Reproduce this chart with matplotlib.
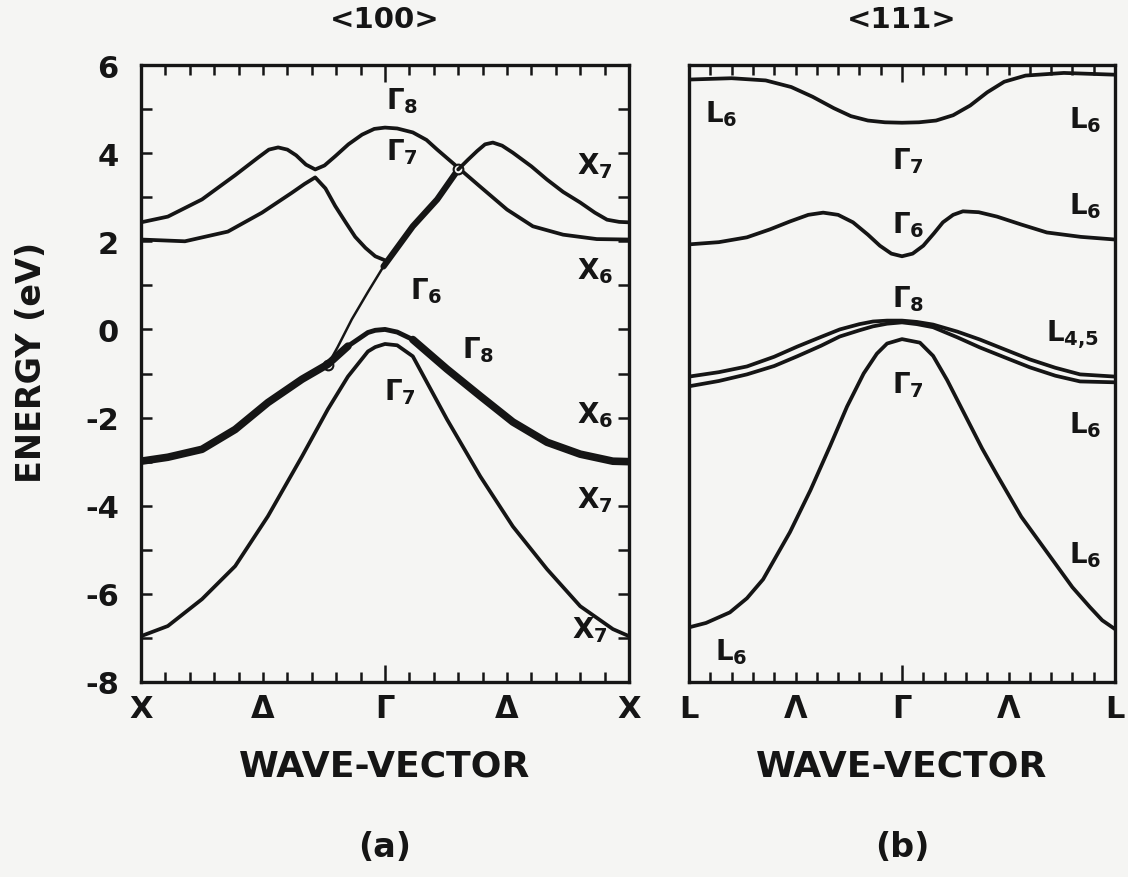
import matplotlib.pyplot as plt
import numpy as np

plt.rcParams['font.family'] = ['DejaVu Sans']
plt.rcParams['font.weight'] = 'bold'
plt.rcParams['mathtext.fontset'] = 'dejavusans'
plt.rcParams['mathtext.default'] = 'bf'
plt.rcParams['axes.unicode_minus'] = False

INK = '#151515'
BG = '#f5f5f3'

# ---------------- (a) <100> : 0 = X, 0.5 = Gamma, 1 = X ----------------
a_top_k = [0, 0.055, 0.125, 0.193, 0.24, 0.262, 0.281, 0.30, 0.318, 0.338, 0.357, 0.376,
           0.398, 0.425, 0.453, 0.478, 0.5, 0.525, 0.557, 0.585, 0.607, 0.65, 0.695,
           0.75, 0.803, 0.865, 0.934, 1.0]
a_top_e = [2.43, 2.56, 2.95, 3.5, 3.9, 4.08, 4.13, 4.08, 3.95, 3.74, 3.63, 3.72,
           3.93, 4.2, 4.42, 4.55, 4.58, 4.56, 4.47, 4.3, 4.08, 3.67, 3.24,
           2.72, 2.34, 2.15, 2.05, 2.04]

a_mid_k = [0, 0.09, 0.178, 0.248, 0.309, 0.335, 0.357, 0.378, 0.398, 0.42, 0.439, 0.46, 0.48, 0.504]
a_mid_e = [2.04, 2.0, 2.22, 2.65, 3.1, 3.3, 3.45, 3.2, 2.8, 2.42, 2.1, 1.85, 1.66, 1.55]

a_g6_k = [0.383, 0.403, 0.432, 0.465, 0.497, 0.557, 0.607, 0.65]
a_g6_e = [-0.8, -0.4, 0.23, 0.85, 1.43, 2.34, 2.95, 3.63]

a_x7_k = [0.65, 0.67, 0.689, 0.705, 0.721, 0.74, 0.762, 0.80, 0.832, 0.865, 0.9, 0.93, 0.955, 0.98, 1.0]
a_x7_e = [3.63, 3.85, 4.05, 4.2, 4.24, 4.17, 4.01, 3.7, 3.4, 3.12, 2.88, 2.65, 2.49, 2.44, 2.43]

a_hh_k = [0, 0.055, 0.125, 0.193, 0.26, 0.33, 0.383, 0.424, 0.465, 0.48, 0.5, 0.525,
          0.557, 0.627, 0.695, 0.762, 0.832, 0.9, 0.967, 1.0]
a_hh_e = [-2.99, -2.9, -2.72, -2.27, -1.66, -1.13, -0.79, -0.38, -0.07, -0.02, 0.0, -0.06,
          -0.23, -0.9, -1.51, -2.1, -2.56, -2.83, -2.99, -3.0]

a_so_k = [0, 0.055, 0.125, 0.193, 0.26, 0.33, 0.383, 0.424, 0.465, 0.48, 0.5, 0.525,
          0.557, 0.627, 0.695, 0.762, 0.832, 0.9, 0.967, 1.0]
a_so_e = [-6.96, -6.73, -6.12, -5.37, -4.24, -2.88, -1.81, -1.07, -0.5, -0.4, -0.33, -0.36,
          -0.61, -2.04, -3.33, -4.47, -5.44, -6.28, -6.8, -6.96]

# ---------------- (b) <111> : 0 = L, 0.5 = Gamma, 1 = L ----------------
b_top_k = [0, 0.1, 0.18, 0.24, 0.29, 0.34, 0.38, 0.42, 0.46, 0.5, 0.54, 0.58, 0.62,
           0.66, 0.70, 0.74, 0.79, 0.88, 1.0]
b_top_e = [5.67, 5.7, 5.65, 5.5, 5.28, 5.02, 4.84, 4.74, 4.7, 4.69, 4.7, 4.74, 4.86,
           5.08, 5.38, 5.62, 5.76, 5.82, 5.78]

b_g6_k = [0, 0.07, 0.136, 0.19, 0.237, 0.28, 0.315, 0.35, 0.385, 0.42, 0.448, 0.475, 0.5,
          0.525, 0.55, 0.575, 0.596, 0.62, 0.643, 0.68, 0.723, 0.78, 0.84, 0.92, 1.0]
b_g6_e = [1.93, 1.98, 2.09, 2.27, 2.45, 2.6, 2.65, 2.6, 2.43, 2.15, 1.9, 1.72, 1.66,
          1.72, 1.9, 2.18, 2.43, 2.6, 2.68, 2.66, 2.56, 2.38, 2.2, 2.1, 2.04]

b_l_k = [0, 0.07, 0.136, 0.2, 0.254, 0.31, 0.354, 0.4, 0.432, 0.465, 0.5, 0.535, 0.573,
         0.63, 0.683, 0.74, 0.8, 0.86, 0.918, 1.0]
b_l45_e = [-1.07, -0.97, -0.84, -0.62, -0.39, -0.17, 0.0, 0.12, 0.18, 0.2, 0.2, 0.17, 0.11,
           -0.05, -0.23, -0.45, -0.68, -0.87, -1.02, -1.07]
b_l6_e = [-1.29, -1.17, -1.02, -0.83, -0.61, -0.37, -0.16, -0.02, 0.07, 0.13, 0.16, 0.12, 0.05,
          -0.18, -0.41, -0.63, -0.86, -1.05, -1.18, -1.2]

b_g7_k = [0, 0.04, 0.096, 0.136, 0.174, 0.237, 0.285, 0.331, 0.371, 0.41, 0.441, 0.465, 0.5,
          0.542, 0.573, 0.606, 0.643, 0.688, 0.723, 0.78, 0.84, 0.9, 0.941, 0.97, 1.0]
b_g7_e = [-6.76, -6.66, -6.42, -6.1, -5.67, -4.6, -3.65, -2.65, -1.75, -1.0, -0.55, -0.32, -0.22,
          -0.3, -0.6, -1.15, -1.85, -2.7, -3.3, -4.25, -5.05, -5.85, -6.3, -6.6, -6.8]

xtick_a = ['X', '\u0394', '\u0393', '\u0394', 'X']
xtick_b = ['L', '\u039b', '\u0393', '\u039b', 'L']

# band labels: (k, E, text)
labels_a = [(0.535, 5.2, r'$\Gamma_8$'), (0.535, 4.05, r'$\Gamma_7$'), (0.585, 0.9, r'$\Gamma_6$'),
            (0.69, -0.45, r'$\Gamma_8$'), (0.53, -1.4, r'$\Gamma_7$'),
            (0.93, 3.72, r'$X_7$'), (0.93, 1.35, r'$X_6$'), (0.93, -1.93, r'$X_6$'),
            (0.93, -3.85, r'$X_7$'), (0.92, -6.8, r'$X_7$')]
labels_b = [(0.075, 4.9, r'$L_6$'), (0.93, 4.78, r'$L_6$'), (0.515, 3.85, r'$\Gamma_7$'),
            (0.93, 2.83, r'$L_6$'), (0.515, 2.38, r'$\Gamma_6$'), (0.515, 0.7, r'$\Gamma_8$'),
            (0.9, -0.1, r'$L_{4{,}5}$'), (0.515, -1.25, r'$\Gamma_7$'), (0.93, -2.15, r'$L_6$'),
            (0.93, -5.1, r'$L_6$'), (0.1, -7.3, r'$L_6$')]

fig = plt.figure(figsize=(11.28, 8.78), dpi=100, facecolor=BG)
ax1 = fig.add_axes([141 / 1128, 1 - 683 / 878, 488 / 1128, 617 / 878], facecolor=BG)
ax2 = fig.add_axes([689 / 1128, 1 - 683 / 878, 426 / 1128, 617 / 878], facecolor=BG)

lw = 2.7
kw = dict(color=INK, solid_capstyle='round', solid_joinstyle='round')

ax1.plot(a_top_k, a_top_e, lw=lw, **kw)
ax1.plot(a_mid_k, a_mid_e, lw=lw, **kw)
ax1.plot(a_g6_k[:5], a_g6_e[:5], lw=1.8, **kw)
ax1.plot(a_g6_k[4:], a_g6_e[4:], lw=4.5, **kw)
ax1.plot(a_g6_k, a_g6_e, lw=0, marker='o', ms=7, mfc=BG, mec=INK, mew=1.5, markevery=[0, 7])
ax1.plot(a_x7_k, a_x7_e, lw=lw, **kw)
ax1.plot(a_hh_k[:8], a_hh_e[:8], lw=5.5, **kw)
ax1.plot(a_hh_k[7:13], a_hh_e[7:13], lw=3.5, **kw)
ax1.plot(a_hh_k[12:], a_hh_e[12:], lw=5.5, **kw)
ax1.plot(a_so_k, a_so_e, lw=lw, **kw)

ax2.plot(b_top_k, b_top_e, lw=lw, **kw)
ax2.plot(b_g6_k, b_g6_e, lw=lw, **kw)
ax2.plot(b_l_k, b_l45_e, lw=lw, **kw)
ax2.plot(b_l_k, b_l6_e, lw=lw, **kw)
ax2.plot(b_g7_k, b_g7_e, lw=lw, **kw)

for ax, names, labs, title, panel in [(ax1, xtick_a, labels_a, '<100>', '(a)'),
                                      (ax2, xtick_b, labels_b, '<111>', '(b)')]:
    ax.set_xlim(0, 1)
    ax.set_ylim(-8, 6)
    ax.set_xticks(np.linspace(0, 1, 21))
    ax.set_xticklabels([names[i // 5] if i % 5 == 0 else '' for i in range(21)])
    ax.tick_params(axis='x', direction='in', top=True, bottom=True, length=7, width=1.8,
                   pad=9, labelsize=22, colors=INK)
    t = ax.xaxis.get_major_ticks()[10]
    t.tick1line.set_markersize(12)
    t.tick2line.set_markersize(12)
    for s in ax.spines.values():
        s.set_linewidth(2.4)
        s.set_color(INK)
    for k, e, txt in labs:
        ax.text(k, e, txt, fontsize=20, ha='center', va='center', color=INK)
    ax.text(0.5, -0.136, 'WAVE-VECTOR', transform=ax.transAxes, ha='center', va='center',
            fontsize=26, color=INK)
    ax.text(0.5, -0.267, panel, transform=ax.transAxes, ha='center', va='center',
            fontsize=24, color=INK)
    ax.text(0.5, 1.075, title, transform=ax.transAxes, ha='center', va='center',
            fontsize=21, color=INK)

ax1.set_yticks(np.arange(-8, 7, 2))
ax1.set_yticks(np.arange(-7, 6, 2), minor=True)
ax1.tick_params(axis='y', which='both', direction='in', left=True, right=True, length=8,
                width=1.8, pad=16, labelsize=22, colors=INK)
ax2.set_yticks([])

fig.text(32 / 1128, 1 - 362 / 878, 'ENERGY (eV)', rotation=90, ha='center', va='center',
         fontsize=24, color=INK)

fig.savefig('out.png', dpi=100, facecolor=BG)
